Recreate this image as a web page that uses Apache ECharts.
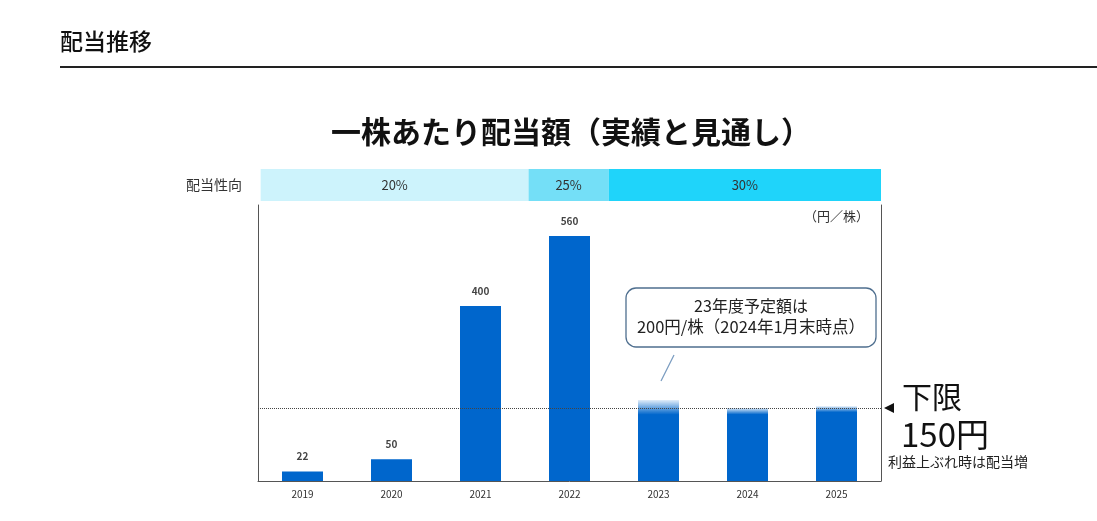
<!DOCTYPE html>
<html lang="ja">

<head>
    <meta charset="UTF-8">
    <title>配当推移</title>
    <script src="https://cdn.jsdelivr.net/npm/echarts@6.0.0/dist/echarts.min.js"></script>
    <style>
        html, body { margin: 0; padding: 0; background: #fff; }
    </style>
</head>

<body>
    <div id="main" style="width: 1097px;height:521px;"></div>
    <script type="text/javascript">
        // years and dividend per share (yen); 2023-2025 are the outlook bars
        const years = ['2019', '2020', '2021', '2022', '2023', '2024', '2025'];
        const actualDividends = [22, 50, 400, 560];
        const forecastDividends = [185, 167, 171];
        // where the dotted "lower limit" line sits on the value axis
        const floorLine = 167;

        // payout ratio band, measured in category units along the x axis
        const payoutLabels = ['20%', '25%', '30%'];
        const payoutStart = [0.03, 3.04, 3.94];
        const payoutEnd = [3.04, 3.94, 7];
        const payoutColors = ['#cdf3fc', '#74dff7', '#1fd4fa'];

        const FONT = '"Noto Sans CJK JP", "Noto Sans", sans-serif';
        const BLUE = '#0066cc';

        // fade on top of the outlook bars (fraction of bar height)
        const fadeParts = [0.18, 0.09, 0.08];

        const barData = years.map((y, i) => {
            if (i < actualDividends.length) {
                return { value: actualDividends[i], label: { show: true } };
            }
            const k = i - actualDividends.length;
            return {
                value: forecastDividends[k],
                label: { show: false },
                itemStyle: {
                    color: {
                        type: 'linear', x: 0, y: 0, x2: 0, y2: 1,
                        colorStops: [
                            { offset: 0, color: 'rgba(0,102,204,0.12)' },
                            { offset: fadeParts[k], color: BLUE },
                            { offset: 1, color: BLUE }
                        ]
                    }
                }
            };
        });

        const bandData = payoutLabels.map((t, i) => [payoutStart[i], payoutEnd[i], t, payoutColors[i]]);

        let options = {
            animation: false,
            textStyle: { fontFamily: FONT },
            grid: [
                { left: 258, right: 216, top: 205, bottom: 40 },
                { left: 258, right: 216, top: 169, height: 32 }
            ],
            xAxis: [
                {
                    gridIndex: 0,
                    type: 'category',
                    data: years,
                    axisLine: { lineStyle: { color: '#555', width: 1 } },
                    axisTick: { show: false },
                    axisLabel: { fontSize: 10, color: '#333', margin: 8 }
                },
                {
                    gridIndex: 1,
                    type: 'value',
                    min: 0,
                    max: 7,
                    show: false
                }
            ],
            yAxis: [
                {
                    gridIndex: 0,
                    type: 'value',
                    min: 0,
                    max: 631,
                    axisLine: { show: true, lineStyle: { color: '#555' } },
                    axisTick: { show: false },
                    axisLabel: { show: false },
                    splitLine: { show: false }
                },
                {
                    gridIndex: 0,
                    type: 'value',
                    position: 'right',
                    min: 0,
                    max: 631,
                    axisLine: { show: true, lineStyle: { color: '#555' } },
                    axisTick: { show: false },
                    axisLabel: { show: false },
                    splitLine: { show: false }
                },
                {
                    gridIndex: 1,
                    type: 'category',
                    data: ['配当性向'],
                    axisLine: { show: false },
                    axisTick: { show: false },
                    axisLabel: { fontSize: 14, color: '#333', margin: 16 }
                }
            ],
            series: [
                {
                    name: '配当額',
                    type: 'bar',
                    xAxisIndex: 0,
                    yAxisIndex: 0,
                    barWidth: 41,
                    data: barData,
                    itemStyle: { color: BLUE },
                    label: {
                        position: 'top',
                        distance: 10,
                        fontSize: 10,
                        fontWeight: 'bold',
                        color: '#444'
                    },
                    markLine: {
                        silent: true,
                        symbol: 'none',
                        label: { show: false },
                        lineStyle: { type: 'dotted', color: '#444', width: 1 },
                        data: [{ yAxis: floorLine }]
                    }
                },
                {
                    name: '配当性向',
                    type: 'custom',
                    xAxisIndex: 1,
                    yAxisIndex: 2,
                    data: bandData,
                    renderItem: function (params, api) {
                        const s = api.coord([api.value(0), 0]);
                        const e = api.coord([api.value(1), 0]);
                        const h = api.size([0, 1])[1];
                        const item = bandData[params.dataIndex];
                        return {
                            type: 'rect',
                            shape: { x: s[0], y: s[1] - h / 2, width: e[0] - s[0], height: h },
                            style: { fill: item[3] },
                            textContent: {
                                style: { text: item[2], fontSize: 13, fill: '#333', fontFamily: FONT }
                            },
                            textConfig: { position: 'inside' }
                        };
                    }
                }
            ],
            graphic: [
                {
                    type: 'text', x: 60, y: 41,
                    style: { text: '配当推移', fontSize: 23, fontWeight: 500, fill: '#111', verticalAlign: 'middle', fontFamily: FONT }
                },
                {
                    type: 'line',
                    shape: { x1: 60, y1: 67, x2: 1097, y2: 67 },
                    style: { stroke: '#222', lineWidth: 2 }
                },
                {
                    type: 'text', x: 571, y: 132,
                    style: {
                        text: '一株あたり配当額（実績と見通し）', fontSize: 30, fontWeight: 'bold',
                        fill: '#111', align: 'center', verticalAlign: 'middle', fontFamily: FONT
                    }
                },
                {
                    type: 'text', x: 869, y: 216,
                    style: { text: '（円／株）', fontSize: 13, fill: '#333', align: 'right', verticalAlign: 'middle', fontFamily: FONT }
                },
                // callout box for the 2023 plan
                {
                    type: 'rect',
                    shape: { x: 626, y: 288, width: 250, height: 59, r: 10 },
                    style: { fill: '#fff', stroke: '#4f6f8f', lineWidth: 1.3 }
                },
                {
                    type: 'text', x: 751, y: 306,
                    style: { text: '23年度予定額は', fontSize: 16, fill: '#222', align: 'center', verticalAlign: 'middle', fontFamily: FONT }
                },
                {
                    type: 'text', x: 751, y: 327,
                    style: { text: '200円/株（2024年1月末時点）', fontSize: 16.5, fill: '#222', align: 'center', verticalAlign: 'middle', fontFamily: FONT }
                },
                {
                    type: 'line',
                    shape: { x1: 674, y1: 355, x2: 661, y2: 381 },
                    style: { stroke: '#7a9cc0', lineWidth: 1.3 }
                },
                // lower limit note
                {
                    type: 'polygon',
                    shape: { points: [[884, 408], [894, 403], [894, 413]] },
                    style: { fill: '#111' }
                },
                {
                    type: 'text', x: 902, y: 397,
                    style: { text: '下限', fontSize: 30, fill: '#111', verticalAlign: 'middle', fontFamily: FONT }
                },
                {
                    type: 'text', x: 901, y: 434,
                    style: { text: '150円', fontSize: 33, fill: '#111', verticalAlign: 'middle', fontFamily: FONT }
                },
                {
                    type: 'text', x: 888, y: 462,
                    style: { text: '利益上ぶれ時は配当増', fontSize: 14, fill: '#222', verticalAlign: 'middle', fontFamily: FONT }
                }
            ]
        };

        let myChart = echarts.init(document.getElementById('main'));
        myChart.setOption(options);
    </script>
</body>

</html>
